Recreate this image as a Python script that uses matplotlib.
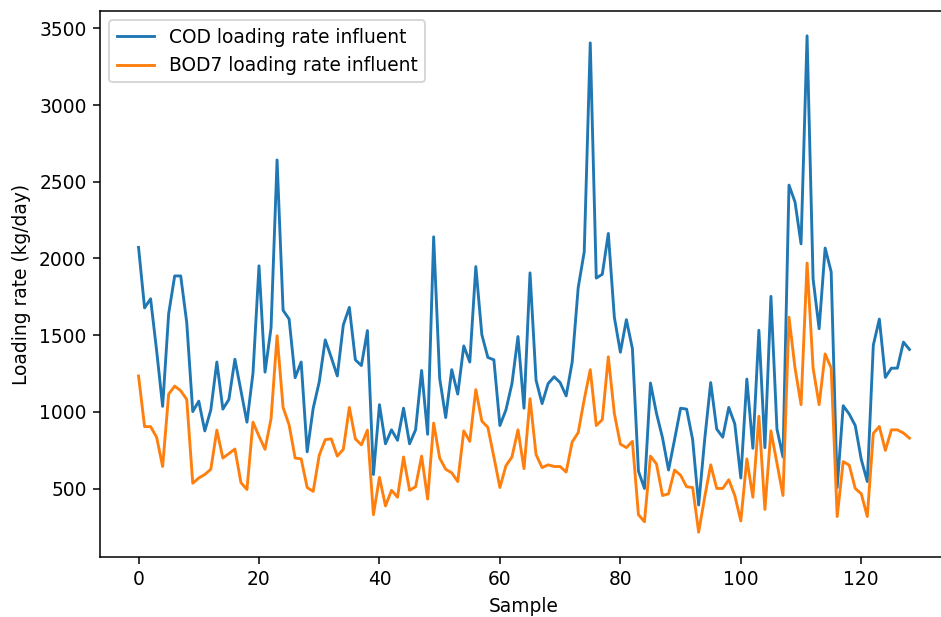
import matplotlib
matplotlib.use("Agg")
import matplotlib.pyplot as plt

# loading rates per sample (kg/day)
cod_influent = [
    2072, 1678, 1737, 1400, 1036, 1640, 1886, 1886, 1583, 1002,
    1070, 876, 1013, 1325, 1018, 1081, 1343, 1138, 933, 1252,
    1952, 1259, 1548, 2642, 1662, 1605, 1223, 1325, 740, 1024,
    1195, 1469, 1355, 1234, 1567, 1681, 1339, 1302, 1530, 592,
    1047, 792, 883, 815, 1024, 792, 883, 1270, 854, 2141,
    1218, 963, 1275, 1116, 1430, 1325, 1947, 1503, 1355, 1339,
    911, 1013, 1184, 1491, 1024, 1906, 1207, 1054, 1184, 1229,
    1191, 1104, 1325, 1810, 2043, 3405, 1872, 1897, 2163, 1617,
    1389, 1601, 1412, 614, 501, 1188, 990, 831, 621, 820,
    1024, 1018, 820, 393, 820, 1191, 888, 835, 1029, 922,
    569, 1214, 763, 1532, 767, 1753, 888, 706, 2478, 2368,
    2095, 3451, 1867, 1542, 2068, 1913, 507, 1040, 986, 911,
    690, 546, 1435, 1605, 1225, 1285, 1285, 1455, 1407,
]
bod7_influent = [
    1234, 904, 904, 835, 644, 1116, 1168, 1138, 1081, 535,
    569, 592, 626, 881, 699, 728, 758, 539, 494, 933,
    842, 756, 956, 1496, 1029, 915, 699, 694, 507, 482,
    717, 819, 824, 712, 756, 1029, 824, 785, 881, 330,
    573, 387, 489, 444, 706, 489, 512, 712, 432, 927,
    699, 626, 603, 546, 876, 808, 1145, 940, 899, 706,
    507, 649, 706, 883, 630, 1086, 722, 637, 655, 644,
    644, 608, 804, 865, 1081, 1275, 911, 949, 1359, 990,
    790, 767, 808, 330, 284, 712, 660, 455, 466, 621,
    587, 512, 507, 216, 444, 655, 501, 501, 558, 455,
    289, 694, 444, 972, 364, 876, 667, 455, 1617, 1286,
    1047, 1970, 1286, 1047, 1378, 1286, 318, 676, 653, 501,
    466, 318, 860, 905, 749, 883, 883, 862, 829,
]
samples = list(range(len(cod_influent)))

plt.rcParams['font.size'] = 9.7

fig = plt.figure(figsize=(941 / 138, 617 / 138), dpi=138)
ax = fig.add_axes([100 / 941, 60 / 617, 848 / 941, 546 / 617])

ax.plot(samples, cod_influent, label="COD loading rate influent")
ax.plot(samples, bod7_influent, label="BOD7 loading rate influent")
ax.set_xlabel("Sample")
ax.set_ylabel("Loading rate (kg/day)")
ax.legend(loc="upper left")

fig.savefig("out.png", dpi=138)
